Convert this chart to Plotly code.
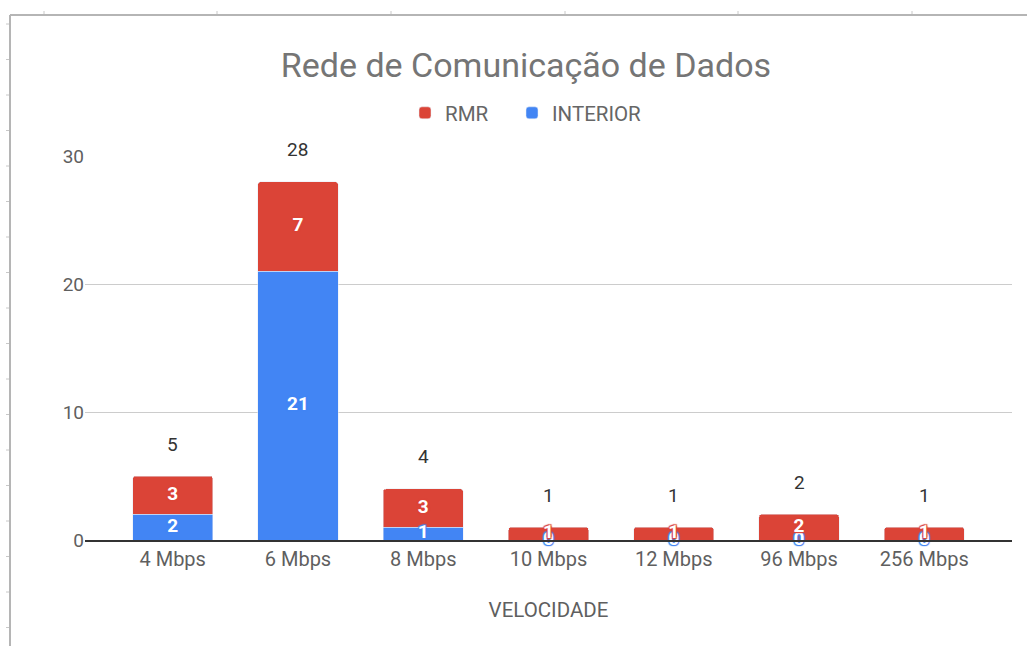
import plotly.graph_objects as go

categories = ["4 Mbps", "6 Mbps", "8 Mbps", "10 Mbps", "12 Mbps", "96 Mbps", "256 Mbps"]
rmr = [3, 7, 3, 1, 1, 2, 1]
interior = [2, 21, 1, 0, 0, 0, 0]
totals = [a + b for a, b in zip(rmr, interior)]
y_ticks = [0, 10, 20, 30]

RED = "#DB4437"
BLUE = "#4285F4"
FONT = "Roboto"

W, H = 1027, 646
PL, PR, PT, PB = 85, 1012, 156, 540  # plot area in pixels


def xp(px):
    return (px - PL) / (PR - PL)


def yp(py):
    return (PB - py) / (PB - PT)


def outline(c):
    return ", ".join(f"{a}px {b}px 1px {c}" for a, b in [(1, 1), (-1, -1), (1, -1), (-1, 1)])


fig = go.Figure()
fig.add_trace(go.Bar(name="INTERIOR", x=categories, y=interior, marker_color=BLUE,
                     width=0.64, hoverinfo="skip", legend="legend2"))
fig.add_trace(go.Bar(name="RMR", x=categories, y=rmr, marker_color=RED,
                     width=0.64, hoverinfo="skip", legend="legend"))

# INTERIOR segment labels (zeros sit on the baseline)
fig.add_trace(go.Scatter(
    x=categories, y=[v / 2 for v in interior], mode="text",
    text=[str(v) for v in interior], textposition="middle center",
    showlegend=False, hoverinfo="skip", cliponaxis=False,
    textfont=dict(family=FONT, size=19, color="white", weight="bold", shadow=outline(BLUE)),
))
# RMR segment labels
fig.add_trace(go.Scatter(
    x=categories, y=[i + r / 2 for i, r in zip(interior, rmr)], mode="text",
    text=[str(v) for v in rmr], textposition="middle center",
    showlegend=False, hoverinfo="skip", cliponaxis=False,
    textfont=dict(family=FONT, size=19, color="white", weight="bold", shadow=outline(RED)),
))

for c, t in zip(categories, totals):
    fig.add_annotation(x=c, y=t, text=str(t), showarrow=False, yanchor="middle",
                       yshift=32, font=dict(family=FONT, size=19, color="#333333"))

# spreadsheet frame
shapes = []
line = dict(color="#b5b5b5", width=2)
shapes.append(dict(type="line", xref="paper", yref="paper", x0=xp(10), x1=xp(W + 5),
                   y0=yp(15), y1=yp(15), line=line))
shapes.append(dict(type="line", xref="paper", yref="paper", x0=xp(10), x1=xp(10),
                   y0=yp(15), y1=yp(H + 5), line=line))
for tx in [44, 217, 391, 565, 738, 912]:
    shapes.append(dict(type="line", xref="paper", yref="paper", x0=xp(tx), x1=xp(tx),
                       y0=yp(11), y1=yp(14), line=dict(color="#c8c8c8", width=1)))
ty = 24
while ty < H:
    shapes.append(dict(type="line", xref="paper", yref="paper", x0=xp(6), x1=xp(9),
                       y0=yp(ty), y1=yp(ty), line=dict(color="#c8c8c8", width=1)))
    ty += 35.5

leg = dict(orientation="h", xref="container", yref="container", xanchor="left",
           y=1 - 113 / H, yanchor="middle", font=dict(family=FONT, size=20.5, color="#666666"),
           itemwidth=30, bgcolor="rgba(0,0,0,0)")

fig.update_layout(
    width=W, height=H,
    barmode="stack",
    barcornerradius=3,
    paper_bgcolor="white", plot_bgcolor="white",
    margin=dict(l=PL, r=W - PR, t=PT, b=H - PB, autoexpand=False),
    font=dict(family=FONT, color="#5f5f5f"),
    title=dict(text="Rede de Comunicação de Dados", xref="container", yref="container",
               x=526 / W, xanchor="center", y=1 - 65 / H, yanchor="middle",
               font=dict(family=FONT, size=34, color="#757575")),
    legend=dict(leg, x=(411 - 6) / W),
    legend2=dict(leg, x=(517 - 5) / W),
    xaxis=dict(range=[-0.7, 6.7], showgrid=False, showline=True, linecolor="#333333",
               linewidth=1.5, ticks="", tickfont=dict(family=FONT, size=20, color="#5f5f5f"),
               title=dict(text="VELOCIDADE", standoff=33,
                          font=dict(family=FONT, size=20.5, color="#5f5f5f"))),
    yaxis=dict(range=[0, 30], tickvals=y_ticks, showgrid=True, gridcolor="#cccccc",
               gridwidth=1, zeroline=False, ticks="", showline=False,
               tickfont=dict(family=FONT, size=19, color="#5f5f5f")),
    shapes=shapes,
)

fig.write_html("out.html", config={"displayModeBar": False},
               post_script="document.body.style.margin='0';document.body.style.overflow='hidden';")
